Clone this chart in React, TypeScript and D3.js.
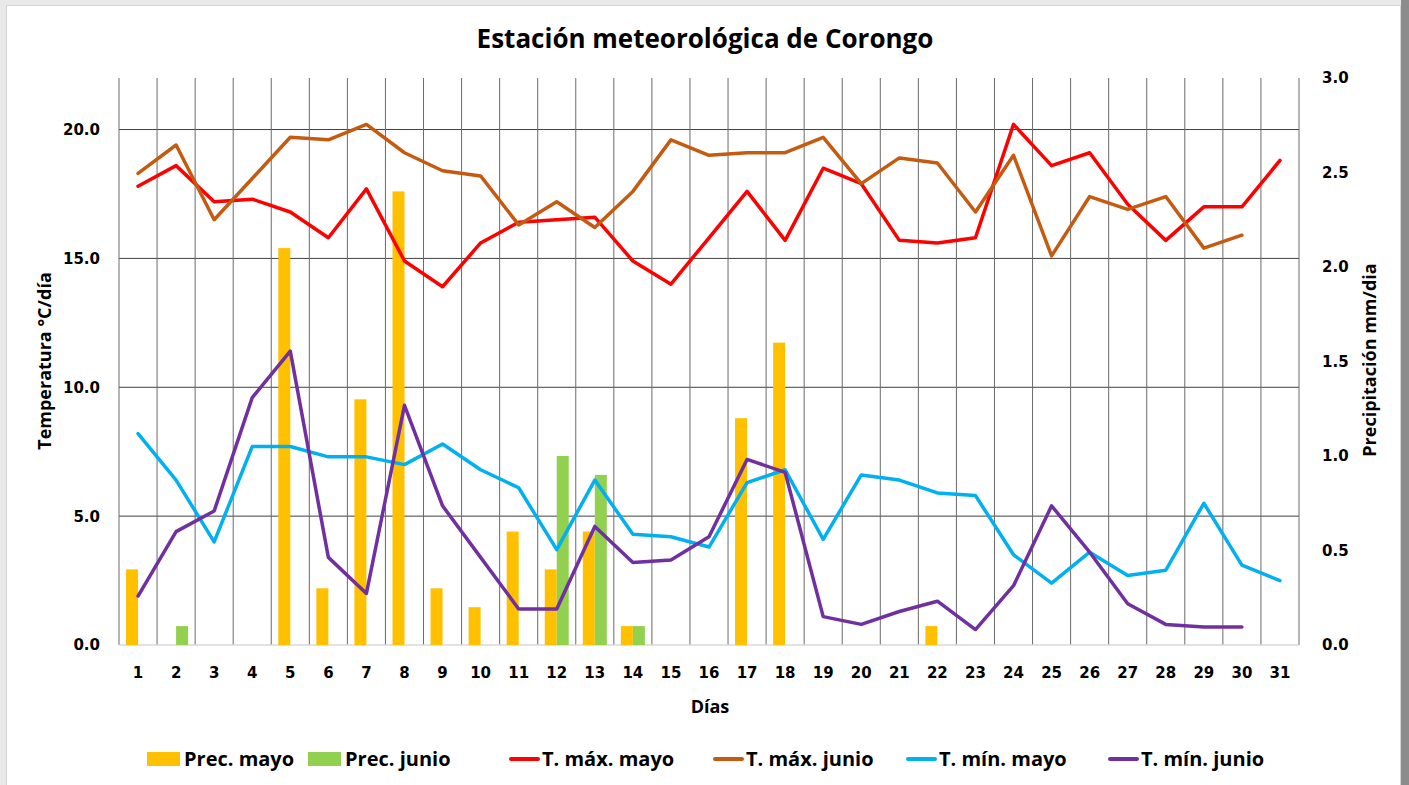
import React, { useEffect, useRef } from 'react';
import * as d3 from 'd3';

// días del mes
const dias = d3.range(1, 32).map(String);

// precipitación mm/dia (eje derecho)
const precMayo = [0.4, 0, 0, 0, 2.1, 0.3, 1.3, 2.4, 0.3, 0.2, 0.6, 0.4, 0.6, 0.1, 0, 0, 1.2, 1.6, 0, 0, 0, 0.1, 0, 0, 0, 0, 0, 0, 0, 0, 0];
const precJunio = [0, 0.1, 0, 0, 0, 0, 0, 0, 0, 0, 0, 1.0, 0.9, 0.1, 0, 0, 0, 0, 0, 0, 0, 0, 0, 0, 0, 0, 0, 0, 0, 0, 0];

// temperaturas °C/día (eje izquierdo)
const tMaxMayo = [17.8, 18.6, 17.2, 17.3, 16.8, 15.8, 17.7, 14.9, 13.9, 15.6, 16.4, 16.5, 16.6, 14.9, 14.0, 15.8, 17.6, 15.7, 18.5, 17.9, 15.7, 15.6, 15.8, 20.2, 18.6, 19.1, 17.1, 15.7, 17.0, 17.0, 18.8];
const tMaxJunio = [18.3, 19.4, 16.5, 18.1, 19.7, 19.6, 20.2, 19.1, 18.4, 18.2, 16.3, 17.2, 16.2, 17.6, 19.6, 19.0, 19.1, 19.1, 19.7, 17.9, 18.9, 18.7, 16.8, 19.0, 15.1, 17.4, 16.9, 17.4, 15.4, 15.9, null];
const tMinMayo = [8.2, 6.4, 4.0, 7.7, 7.7, 7.3, 7.3, 7.0, 7.8, 6.8, 6.1, 3.7, 6.4, 4.3, 4.2, 3.8, 6.3, 6.8, 4.1, 6.6, 6.4, 5.9, 5.8, 3.5, 2.4, 3.6, 2.7, 2.9, 5.5, 3.1, 2.5];
const tMinJunio = [1.9, 4.4, 5.2, 9.6, 11.4, 3.4, 2.0, 9.3, 5.4, 3.4, 1.4, 1.4, 4.6, 3.2, 3.3, 4.2, 7.2, 6.7, 1.1, 0.8, 1.3, 1.7, 0.6, 2.3, 5.4, 3.6, 1.6, 0.8, 0.7, 0.7, null];

const tempTicks = [0, 5, 10, 15, 20];
const precTicks = [0, 0.5, 1.0, 1.5, 2.0, 2.5, 3.0];

const lineas = [
  { nombre: 'T. máx. mayo', datos: tMaxMayo, color: '#ff0000' },
  { nombre: 'T. máx. junio', datos: tMaxJunio, color: '#c55a11' },
  { nombre: 'T. mín. mayo', datos: tMinMayo, color: '#00b0f0' },
  { nombre: 'T. mín. junio', datos: tMinJunio, color: '#7030a0' },
];
const barras = [
  { nombre: 'Prec. mayo', datos: precMayo, color: '#ffc000', clave: 'mayo' },
  { nombre: 'Prec. junio', datos: precJunio, color: '#92d050', clave: 'junio' },
];

export default function App() {
  const svgRef = useRef<SVGSVGElement>(null);

  useEffect(() => {
    const svg = d3.select(svgRef.current);
    svg.selectAll('*').remove();

    const width = 1409;
    const height = 785;
    const m = { l: 119, r: 1299, t: 78, b: 645 };

    // marco
    svg.append('rect').attr('width', width).attr('height', height).attr('fill', '#e9e9e9');
    svg.append('rect').attr('x', 1401).attr('y', 0).attr('width', 8).attr('height', height).attr('fill', '#8c8c8c');
    svg.append('rect').attr('x', 6.5).attr('y', 5.5).attr('width', 1394).attr('height', height)
      .attr('fill', '#fff').attr('stroke', '#d4d4d4');

    const x = d3.scaleBand().domain(dias).range([m.l, m.r]);
    const bw = x.bandwidth();
    const xSub = d3.scaleBand().domain(['mayo', 'junio']).range([bw * 0.185, bw * 0.815]);
    const yT = d3.scaleLinear().domain([0, 22]).range([m.b, m.t]);
    const yP = d3.scaleLinear().domain([0, 3]).range([m.b, m.t]);

    const g = svg.append('g');

    // rejilla horizontal
    g.append('g').selectAll('line').data(tempTicks.filter(d => d > 0)).enter().append('line')
      .attr('x1', m.l).attr('x2', m.r)
      .attr('y1', d => yT(d)).attr('y2', d => yT(d))
      .attr('stroke', '#404040').attr('stroke-width', 1);

    // rejilla vertical (bordes de categoría)
    const bordes = dias.map(d => x(d) as number).concat([m.r]);
    g.append('g').selectAll('line').data(bordes).enter().append('line')
      .attr('x1', d => d).attr('x2', d => d)
      .attr('y1', m.t).attr('y2', m.b)
      .attr('stroke', '#6a6a6a').attr('stroke-width', 1);

    // eje x
    g.append('line').attr('x1', m.l).attr('x2', m.r).attr('y1', m.b).attr('y2', m.b)
      .attr('stroke', '#d9d9d9').attr('stroke-width', 1.5);

    // barras
    barras.forEach(s => {
      g.append('g').selectAll('rect')
        .data(s.datos.map((v, j) => ({ dia: dias[j], v })).filter(d => d.v > 0))
        .enter().append('rect')
        .attr('x', d => (x(d.dia) as number) + (xSub(s.clave) as number))
        .attr('width', xSub.bandwidth())
        .attr('y', d => yP(d.v))
        .attr('height', d => yP(0) - yP(d.v))
        .attr('fill', s.color);
    });

    // líneas
    lineas.forEach(s => {
      const line = d3.line<number | null>()
        .defined(d => d !== null)
        .x((d, j) => (x(dias[j]) as number) + bw / 2)
        .y(d => yT(d as number));
      g.append('path').datum(s.datos).attr('d', line)
        .attr('fill', 'none').attr('stroke', s.color).attr('stroke-width', 3.5)
        .attr('stroke-linejoin', 'round').attr('stroke-linecap', 'round');
    });

    const tickFont = '"DejaVu Sans", Verdana, sans-serif';
    const titleFont = '"Open Sans", Calibri, sans-serif';

    // eje izquierdo
    svg.append('g').selectAll('text').data(tempTicks).enter().append('text')
      .attr('x', 100).attr('y', d => yT(d)).attr('dy', '0.36em')
      .attr('text-anchor', 'end').attr('font-family', tickFont).attr('font-weight', 'bold')
      .attr('font-size', 15).attr('fill', '#000').text(d => d.toFixed(1));

    // eje derecho
    svg.append('g').selectAll('text').data(precTicks).enter().append('text')
      .attr('x', 1322).attr('y', d => yP(d)).attr('dy', '0.36em')
      .attr('text-anchor', 'start').attr('font-family', tickFont).attr('font-weight', 'bold')
      .attr('font-size', 15).attr('fill', '#000').text(d => d.toFixed(1));

    // eje x etiquetas
    svg.append('g').selectAll('text').data(dias).enter().append('text')
      .attr('x', d => (x(d) as number) + bw / 2).attr('y', 678)
      .attr('text-anchor', 'middle').attr('font-family', tickFont).attr('font-weight', 'bold')
      .attr('font-size', 15).attr('fill', '#000').text(d => d);

    // títulos
    svg.append('text').attr('x', 705).attr('y', 48).attr('text-anchor', 'middle')
      .attr('font-family', titleFont).attr('font-weight', 'bold').attr('font-size', 26)
      .text('Estación meteorológica de Corongo');
    svg.append('text').attr('x', 710).attr('y', 713).attr('text-anchor', 'middle')
      .attr('font-family', titleFont).attr('font-weight', 'bold').attr('font-size', 18)
      .text('Días');
    svg.append('text').attr('transform', 'translate(51,361) rotate(-90)').attr('text-anchor', 'middle')
      .attr('font-family', titleFont).attr('font-weight', 'bold').attr('font-size', 18)
      .text('Temperatura °C/día');
    svg.append('text').attr('transform', 'translate(1376,360) rotate(-90)').attr('text-anchor', 'middle')
      .attr('font-family', titleFont).attr('font-weight', 'bold').attr('font-size', 18)
      .text('Precipitación mm/dia');

    // leyenda
    const leyenda = [
      { ...barras[0], tipo: 'bar', x: 147 },
      { ...barras[1], tipo: 'bar', x: 308 },
      { ...lineas[0], tipo: 'line', x: 509 },
      { ...lineas[1], tipo: 'line', x: 713 },
      { ...lineas[2], tipo: 'line', x: 906 },
      { ...lineas[3], tipo: 'line', x: 1108 },
    ];
    const ly = 759;
    const lg = svg.append('g');
    leyenda.forEach(it => {
      if (it.tipo === 'bar') {
        lg.append('rect').attr('x', it.x).attr('y', ly - 7).attr('width', 33).attr('height', 14).attr('fill', it.color);
        lg.append('text').attr('x', it.x + 37).attr('y', ly).attr('dy', '0.36em')
          .attr('font-family', titleFont).attr('font-weight', 'bold').attr('font-size', 20).text(it.nombre);
      } else {
        lg.append('line').attr('x1', it.x + 2).attr('x2', it.x + 29).attr('y1', ly).attr('y2', ly)
          .attr('stroke', it.color).attr('stroke-width', 4).attr('stroke-linecap', 'round');
        lg.append('text').attr('x', it.x + 33).attr('y', ly).attr('dy', '0.36em')
          .attr('font-family', titleFont).attr('font-weight', 'bold').attr('font-size', 20).text(it.nombre);
      }
    });
  }, []);

  return (
    <div style={{ position: 'absolute', left: 0, top: 0 }}>
      <svg ref={svgRef} width="1409" height="785" viewBox="0 0 1409 785" style={{ display: 'block' }} />
    </div>
  );
}
